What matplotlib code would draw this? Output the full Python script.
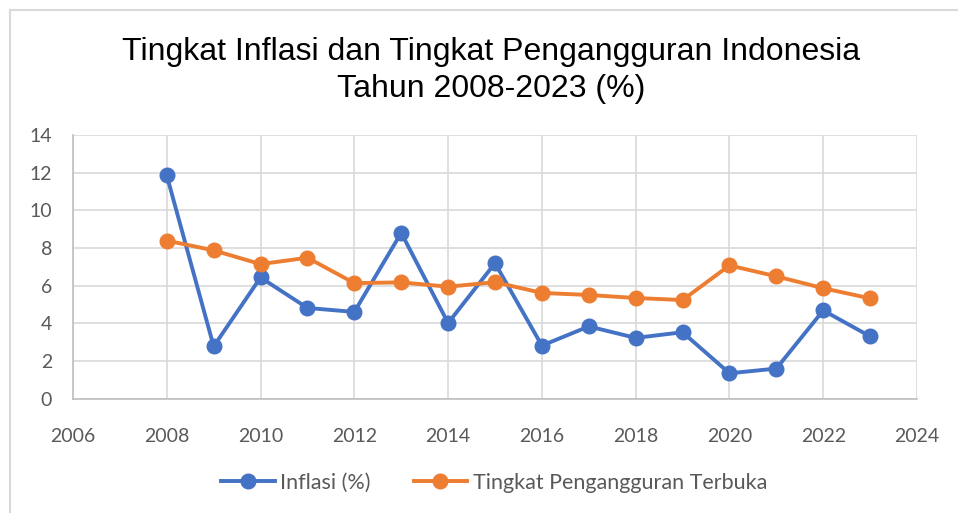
import matplotlib.pyplot as plt
from matplotlib.lines import Line2D

# data
years = [2008, 2009, 2010, 2011, 2012, 2013, 2014, 2015,
         2016, 2017, 2018, 2019, 2020, 2021, 2022, 2023]
inflasi = [11.85, 2.77, 6.43, 4.81, 4.60, 8.80, 4.01, 7.19,
           2.81, 3.83, 3.22, 3.52, 1.34, 1.59, 4.68, 3.30]
tpt = [8.39, 7.87, 7.14, 7.48, 6.13, 6.17, 5.94, 6.18,
       5.61, 5.50, 5.34, 5.23, 7.07, 6.49, 5.86, 5.32]
xticks = list(range(2006, 2025, 2))
yticks = list(range(0, 15, 2))

W, H = 958, 513
fig = plt.figure(figsize=(W / 100, H / 100), dpi=100)
ax = fig.add_axes([73 / W, 1 - 398.5 / H, (917 - 73) / W, (398.5 - 135) / H])

blue = '#4472C4'
orange = '#ED7D31'
ax.plot(years, inflasi, color=blue, lw=2.8, marker='o', ms=10.5,
        label='Inflasi (%)', zorder=3)
ax.plot(years, tpt, color=orange, lw=2.8, marker='o', ms=10.5,
        label='Tingkat Pengangguran Terbuka', zorder=3)

ax.set_xlim(2006, 2024)
ax.set_ylim(0, 14)
ax.set_xticks(xticks)
ax.set_yticks(yticks)
ax.grid(True, color='#D9D9D9', lw=1.2)
ax.set_axisbelow(True)
for s in ['top', 'right']:
    ax.spines[s].set_visible(False)
for s in ['left', 'bottom']:
    ax.spines[s].set_color('#BFBFBF')
    ax.spines[s].set_linewidth(1.2)
ax.tick_params(length=0, labelsize=14, labelcolor='#595959')
ax.tick_params(axis='x', pad=21)
ax.tick_params(axis='y', pad=15)
for lab in ax.get_xticklabels() + ax.get_yticklabels():
    lab.set_family('Lato')

fig.text(491 / W, 1 - 60 / H, 'Tingkat Inflasi dan Tingkat Pengangguran Indonesia',
         ha='center', va='baseline', fontsize=23, family='Liberation Sans')
fig.text(491 / W, 1 - 97 / H, 'Tahun 2008-2023 (%)',
         ha='center', va='baseline', fontsize=23, family='Liberation Sans')

leg = fig.legend(loc='center', bbox_to_anchor=(494 / W, 1 - 483 / H), ncol=2,
                 frameon=False, prop={'family': 'Lato', 'size': 15.5},
                 handlelength=2.5, handletextpad=0.25, columnspacing=2.0)
for t in leg.get_texts():
    t.set_color('#595959')

# light chart-area border (top and left visible in the crop)
fig.add_artist(Line2D([9.5 / W, 1], [1 - 9.5 / H, 1 - 9.5 / H], color='#D9D9D9', lw=1.5))
fig.add_artist(Line2D([9.5 / W, 9.5 / W], [0, 1 - 9.5 / H], color='#D9D9D9', lw=1.5))

fig.savefig('out.png', dpi=100)
